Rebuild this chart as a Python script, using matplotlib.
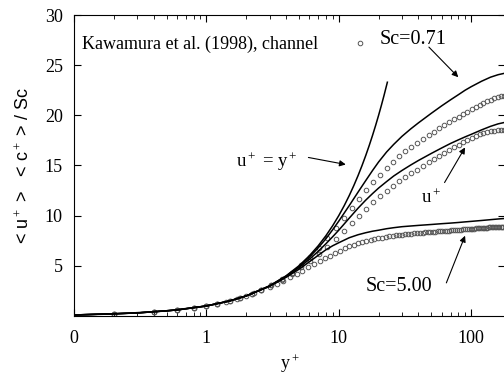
import numpy as np
import matplotlib
matplotlib.use('Agg')
import matplotlib.pyplot as plt

plt.rcParams['font.family'] = 'Liberation Serif'
plt.rcParams['mathtext.fontset'] = 'custom'
plt.rcParams['mathtext.rm'] = 'Liberation Serif'
plt.rcParams['mathtext.it'] = 'Liberation Serif'

# -------- DATA ----------------------------------
# u+ = y+ (viscous sublayer line)
y_lin = [0.1, 0.2, 0.5, 1, 1.5, 2, 3, 4, 5, 6, 7, 8, 9, 10, 11, 12, 13, 14,
         15, 16, 17, 18, 19, 20, 21, 22, 23.3]

# model curves (solid lines)
y_mod = [0.1, 0.3, 0.6, 1, 1.5, 2, 3, 4, 5, 6, 7, 8, 9, 10, 12, 14, 16, 18,
         20, 23, 26, 30, 35, 40, 50, 60, 70, 80, 90, 100, 120, 140, 160, 180]
u_mod = [0.1, 0.3, 0.6, 1.0, 1.5, 2.0, 2.97, 3.92, 4.8, 5.65, 6.45, 7.2, 7.9,
         8.55, 9.75, 10.75, 11.55, 12.2, 12.75, 13.4, 13.95, 14.5, 15.05,
         15.5, 16.2, 16.75, 17.2, 17.55, 17.85, 18.1, 18.55, 18.9, 19.15, 19.3]
c071_mod = [0.1, 0.3, 0.6, 1.0, 1.5, 2.0, 3.0, 3.97, 4.9, 5.85, 6.8, 7.7,
            8.6, 9.45, 11.0, 12.35, 13.5, 14.5, 15.35, 16.35, 17.1, 17.9,
            18.65, 19.25, 20.2, 20.95, 21.55, 22.05, 22.5, 22.85, 23.4, 23.8,
            24.05, 24.2]
c500_mod = [0.1, 0.3, 0.6, 1.0, 1.5, 2.0, 2.95, 3.85, 4.65, 5.4, 6.05, 6.6,
            7.0, 7.3, 7.8, 8.1, 8.3, 8.45, 8.55, 8.7, 8.8, 8.9, 8.97, 9.03,
            9.12, 9.2, 9.26, 9.32, 9.38, 9.43, 9.52, 9.6, 9.67, 9.72]

# Kawamura et al. (1998) DNS, u+ and Sc=0.71
y_dnsA = [0.2, 0.4, 0.6, 0.8, 1.0, 1.2, 1.5, 1.8, 2.2, 2.6, 3.1, 3.7, 4.4,
          5.2, 6.1, 7.1, 8.2, 9.5, 10.9, 12.5, 14.2, 16.1, 18.2, 20.5, 23.0,
          25.7, 28.7, 31.9, 35.4, 39.2, 43.3, 47.7, 52.4, 57.4, 62.7, 68.3,
          74.2, 80.4, 86.9, 93.7, 100.8, 108.2, 115.9, 123.9, 132.2, 140.8,
          149.6, 158.5, 167.5, 176.5]
u_dns = [0.2, 0.4, 0.6, 0.8, 1.0, 1.2, 1.5, 1.8, 2.19, 2.58, 3.05, 3.6, 4.2,
         4.85, 5.5, 6.2, 6.9, 7.7, 8.45, 9.25, 10.0, 10.7, 11.35, 11.95, 12.5,
         13.0, 13.45, 13.85, 14.25, 14.6, 14.95, 15.3, 15.6, 15.9, 16.2,
         16.5, 16.8, 17.05, 17.3, 17.55, 17.75, 17.95, 18.1, 18.25, 18.35,
         18.42, 18.47, 18.5, 18.52, 18.52]
c071_dns = [0.2, 0.4, 0.6, 0.8, 1.0, 1.2, 1.5, 1.8, 2.2, 2.6, 3.08, 3.67,
            4.33, 5.08, 5.9, 6.8, 7.75, 8.75, 9.75, 10.75, 11.7, 12.55, 13.35,
            14.05, 14.75, 15.35, 15.9, 16.4, 16.85, 17.25, 17.65, 18.0, 18.35,
            18.7, 19.0, 19.3, 19.6, 19.85, 20.1, 20.35, 20.6, 20.8, 21.0,
            21.2, 21.4, 21.55, 21.7, 21.8, 21.9, 21.95]

# Kawamura et al. (1998) DNS, Sc=5.00 (finer grid)
y_dnsB = [0.2, 0.4, 0.6, 0.8, 1.0, 1.2, 1.4, 1.7, 2.0, 2.3, 2.6, 3.0, 3.4,
          3.8, 4.3, 4.8, 5.3, 5.9, 6.5, 7.2, 7.9, 8.6, 9.4, 10.2, 11.1, 12.0,
          13.0, 14.0, 15.1, 16.2, 17.4, 18.6, 19.9, 21.2, 22.6, 24.0, 25.5,
          27.0, 28.6, 30.2, 31.9, 33.6, 35.4, 37.2, 39.1, 41.0, 43.0, 45.0,
          47.1, 49.2, 51.4, 53.6, 55.9, 58.2, 60.6, 63.0, 65.5, 68.0, 70.6,
          73.2, 75.9, 78.6, 81.4, 84.2, 87.1, 90.0, 93.0, 96.0, 99.1, 102.2,
          105.4, 108.6, 111.9, 115.2, 118.6, 122.0, 125.5, 129.0, 132.6,
          136.2, 139.9, 143.6, 147.4, 151.2, 155.1, 159.0, 163.0, 167.0,
          171.1, 175.2]
c500_dns = [0.2, 0.4, 0.6, 0.8, 1.0, 1.2, 1.4, 1.7, 1.98, 2.27, 2.55, 2.9,
            3.22, 3.5, 3.85, 4.2, 4.5, 4.85, 5.15, 5.45, 5.75, 6.0, 6.25, 6.5,
            6.75, 6.95, 7.12, 7.27, 7.4, 7.5, 7.6, 7.68, 7.75, 7.82, 7.88,
            7.93, 7.98, 8.03, 8.07, 8.11, 8.14, 8.17, 8.2, 8.23, 8.26, 8.28,
            8.31, 8.33, 8.35, 8.37, 8.39, 8.41, 8.43, 8.45, 8.47, 8.49, 8.5,
            8.52, 8.54, 8.56, 8.57, 8.59, 8.6, 8.62, 8.63, 8.65, 8.66, 8.68,
            8.69, 8.7, 8.72, 8.73, 8.74, 8.75, 8.77, 8.78, 8.79, 8.8, 8.81,
            8.82, 8.83, 8.84, 8.85, 8.86, 8.87, 8.87, 8.88, 8.88, 8.89, 8.89]

# -------- PLOT ----------------------------------
fig = plt.figure(figsize=(5.04, 3.76), dpi=100)
ax = fig.add_axes([0.1468, 0.1596, 0.855, 0.8005])

circ = dict(ls='none', marker='o', ms=3.3, mfc='none', mec='#555555', mew=0.7)
ax.plot(y_dnsA, u_dns, **circ)
ax.plot(y_dnsA, c071_dns, **circ)
ax.plot(y_dnsB, c500_dns, **circ)

ax.plot(y_lin, y_lin, 'k-', lw=1.1)
ax.plot(y_mod, u_mod, 'k-', lw=1.1)
ax.plot(y_mod, c071_mod, 'k-', lw=1.1)
ax.plot(y_mod, c500_mod, 'k-', lw=1.1)

ax.set_xscale('log')
ax.set_xlim(0.1, 180)
ax.set_ylim(0, 30)
ax.set_xticks([0.1, 1, 10, 100])
ax.set_xticklabels(['0', '1', '10', '100'])
ax.set_yticks([5, 10, 15, 20, 25, 30])
ax.tick_params(which='both', direction='in', top=True, right=True,
               labelsize=13)
ax.tick_params(axis='x', pad=10)
ax.tick_params(axis='y', pad=8)
ax.tick_params(which='major', length=5)
ax.tick_params(which='minor', length=3)

ax.set_xlabel('y$^+$', fontsize=13)
ax.set_ylabel('< u$^+$ >   < c$^+$ > / Sc', fontsize=13,
              family='Liberation Sans')
ax.yaxis.set_label_coords(-0.095, 0.5)

# legend-like text
ax.text(0.115, 27.1, 'Kawamura et al. (1998), channel', fontsize=13,
        va='center')
ax.plot([14.5], [27.2], **circ)

arrow = dict(arrowstyle='-|>', lw=0.8, color='k', mutation_scale=9,
             shrinkA=0, shrinkB=0)
ax.text(20.2, 27.6, 'Sc=0.71', fontsize=14.5, va='center')
ax.annotate('', xy=(80, 23.8), xytext=(48, 26.8), arrowprops=arrow)

ax.text(1.66, 15.4, 'u$^+$ = y$^+$', fontsize=13.5, va='center')
ax.annotate('', xy=(11.3, 15.1), xytext=(5.9, 15.8), arrowprops=arrow)

ax.text(50, 11.8, 'u$^+$', fontsize=13.5, va='center', ha='center')
ax.annotate('', xy=(90, 16.8), xytext=(63, 13.3), arrowprops=arrow)

ax.text(16.1, 2.9, 'Sc=5.00', fontsize=14.5, va='center')
ax.annotate('', xy=(90, 8.0), xytext=(65, 3.3), arrowprops=arrow)

fig.savefig('out.png', dpi=100)
